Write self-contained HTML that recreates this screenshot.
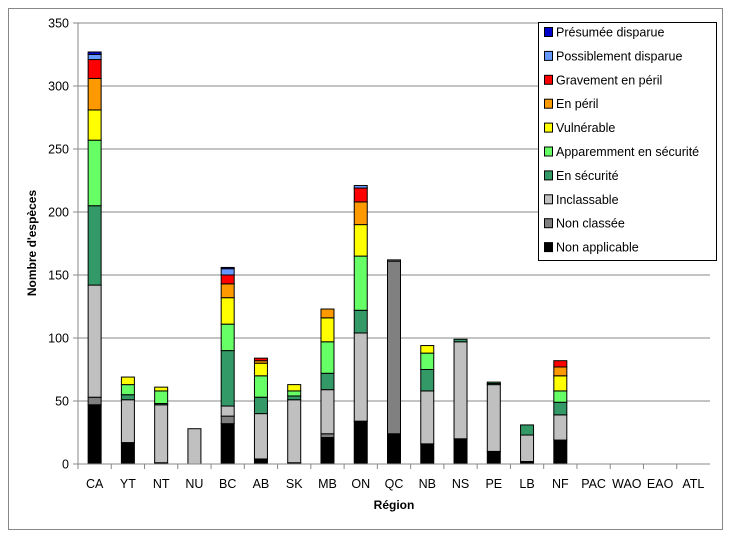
<!DOCTYPE html>
<html><head><meta charset="utf-8"><style>
body{margin:0;background:#fff;font-family:"Liberation Sans",sans-serif;}
</style></head><body>
<svg id="chart" width="732" height="539" xmlns="http://www.w3.org/2000/svg" font-family="Liberation Sans, sans-serif">
<rect x="8.5" y="8.5" width="714" height="521" fill="#fff" stroke="#888" stroke-width="1"/>
<g id="grid"></g><g id="bars"></g><g id="axes"></g>
<text transform="translate(36,243) rotate(-90)" text-anchor="middle" font-size="12" font-weight="bold">Nombre d'espèces</text>
<text x="394" y="509" text-anchor="middle" font-size="12" font-weight="bold">Région</text>
<g id="legend"></g>
</svg>
<script>
const categories=["CA","YT","NT","NU","BC","AB","SK","MB","ON","QC","NB","NS","PE","LB","NF","PAC","WAO","EAO","ATL"];
const seriesNames=["Non applicable","Non classée","Inclassable","En sécurité","Apparemment en sécurité","Vulnérable","En péril","Gravement en péril","Possiblement disparue","Présumée disparue"];
const nonApplicable=[47,17,1,0,32,4,1,21,34,24,16,20,10,2,19,0,0,0,0];
const nonClassee=[6,0,0,0,6,0,0,3,0,137,0,0,0,0,0,0,0,0,0];
const inclassable=[89,34,46,28,8,36,50,35,70,1,42,77,53,21,20,0,0,0,0];
const enSecurite=[63,4,1,0,44,13,3,13,18,0,17,2,1,8,10,0,0,0,0];
const apparemment=[52,8,10,0,21,17,4,25,43,0,13,0,1,0,9,0,0,0,0];
const vulnerable=[24,6,3,0,21,10,5,19,25,0,6,0,0,0,12,0,0,0,0];
const enPeril=[25,0,0,0,11,2,0,7,18,0,0,0,0,0,7,0,0,0,0];
const gravement=[15,0,0,0,7,2,0,0,11,0,0,0,0,0,5,0,0,0,0];
const possiblement=[4,0,0,0,5,0,0,0,2,0,0,0,0,0,0,0,0,0,0];
const presumee=[2,0,0,0,1,0,0,0,0,0,0,0,0,0,0,0,0,0,0];
const yTicks=[0,50,100,150,200,250,300,350];
const colors=["#000000","#808080","#c0c0c0","#339966","#66ff66","#ffff00","#ff9900","#ff0000","#6699ff","#0000cc"];
const series=[nonApplicable,nonClassee,inclassable,enSecurite,apparemment,vulnerable,enPeril,gravement,possiblement,presumee];
const NS="http://www.w3.org/2000/svg";
const x0=78,x1=710,y0=464,yTop=23,yMax=350;
const band=(x1-x0)/categories.length;
const y=v=>y0-(v/yMax)*(y0-yTop);
const xc=i=>x0+band*(i+0.5);
function mk(tag,attrs,parent){const e=document.createElementNS(NS,tag);for(const k in attrs)e.setAttribute(k,attrs[k]);parent.appendChild(e);return e;}
const grid=document.getElementById('grid'),axes=document.getElementById('axes'),bars=document.getElementById('bars'),legend=document.getElementById('legend');
yTicks.forEach(t=>{
  if(t>0){const g=mk('line',{x1:x0,x2:x1,y1:y(t),y2:y(t),stroke:'#888','stroke-width':1},grid);
  
  }
  const tk=mk('line',{x1:x0-5,x2:x0,y1:y(t),y2:y(t),stroke:'#888'},axes);
  
  
  const lb=mk('text',{x:x0-9,y:y(t)+4.5,'text-anchor':'end','font-size':12.5},axes);
  lb.textContent=t;
  
  
});
const ya=mk('line',{x1:x0,x2:x0,y1:yTop,y2:y0,stroke:'#888'},axes);


const xa=mk('line',{x1:x0,x2:x1,y1:y0,y2:y0,stroke:'#888'},axes);


categories.forEach((c,i)=>{
  const tx=x0+band*i;
  const tk=mk('line',{x1:tx,x2:tx,y1:y0,y2:y0+5,stroke:'#888'},axes);
  
  
  const lb=mk('text',{x:xc(i),y:488,'text-anchor':'middle','font-size':12.5},axes);
  lb.textContent=c;
  
  
  let cum=0;
  series.forEach((s,k)=>{
    const v=s[i];if(!v)return;
    const r=mk('rect',{x:xc(i)-6.5,y:y(cum+v),width:13,height:y(cum)-y(cum+v),fill:colors[k],stroke:'#000','stroke-width':1},bars);
    
    
    cum+=v;
  });
});
const lr=mk('rect',{x:538.5,y:22.5,width:178,height:238,fill:'#fff',stroke:'#000','stroke-width':1},legend);


for(let k=9;k>=0;k--){
  const row=9-k,ly=32+row*23.9;
  const sw=mk('rect',{x:544.5,y:ly-4.5,width:8,height:9,fill:colors[k],stroke:'#000','stroke-width':1},legend);
  
  
  const t=mk('text',{x:556,y:ly+4.5,'font-size':12.5},legend);
  t.textContent=seriesNames[k];
  
  
}
</script>
</body></html>
